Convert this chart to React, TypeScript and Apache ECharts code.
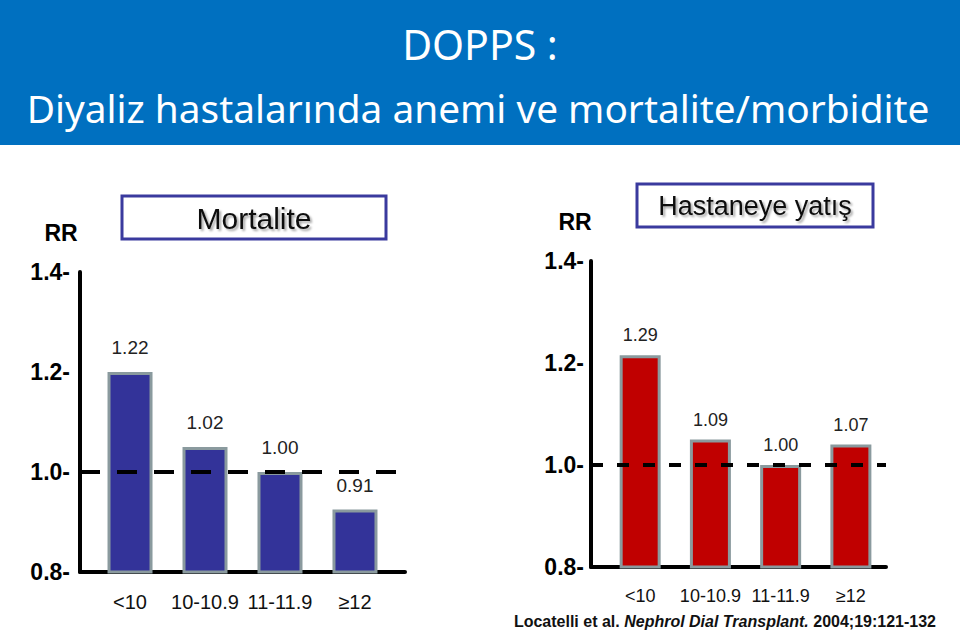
import React, { useEffect, useRef } from "react";
import * as echarts from "echarts";

const categories = ["<10", "10-10.9", "11-11.9", "≥12"];
const mortalityBars = [1.2, 1.05, 1.0, 0.925];
const mortalityLabels = ["1.22", "1.02", "1.00", "0.91"];
const hospitalBars = [1.215, 1.05, 1.0, 1.04];
const hospitalLabels = ["1.29", "1.09", "1.00", "1.07"];
const yMin = 0.8;
const yMax = 1.4;
const yStep = 0.2;
const refLine = 1.0;

const FONT = "'Liberation Sans', Arial, sans-serif";

export default function App() {
  const ref = useRef<HTMLDivElement>(null);
  useEffect(() => {
    if (!ref.current) return;
    const chart = echarts.init(ref.current, null, { renderer: "svg" });

    const yAxisCommon = (margin: number) => ({
      type: "value",
      min: yMin,
      max: yMax,
      interval: yStep,
      axisLine: { show: true, onZero: false, lineStyle: { color: "#000", width: 4 } },
      axisTick: { show: false },
      splitLine: { show: false },
      axisLabel: {
        margin,
        fontFamily: FONT,
        fontWeight: "bold",
        fontSize: 23,
        color: "#000",
        formatter: (v: number) => v.toFixed(1) + "-",
      },
    });

    const xAxisCommon = (min: number, max: number, fontSize: number) => ({
      type: "value",
      min,
      max,
      axisLine: { show: true, onZero: false, lineStyle: { color: "#000", width: 4 } },
      axisTick: { show: false },
      splitLine: { show: false },
      axisLabel: {
        customValues: categories.map((_, i) => i),
        margin: 20,
        fontFamily: FONT,
        fontSize,
        color: "#111",
        formatter: (v: number) => categories[Math.round(v)] ?? "",
      },
    });

    const barSeries = (
      idx: number,
      values: number[],
      labels: string[],
      color: string,
      width: number,
      fontSize: number,
      distance: number
    ) => ({
      type: "bar",
      xAxisIndex: idx,
      yAxisIndex: idx,
      z: 2,
      barWidth: width,
      data: values.map((v, i) => [i, v]),
      itemStyle: { color, borderColor: "#8a9a9e", borderWidth: 3 },
      label: {
        show: true,
        position: "top",
        distance,
        fontFamily: FONT,
        fontSize,
        color: "#222",
        formatter: (p: any) => labels[p.dataIndex],
      },
    });

    const refSeries = (idx: number, z: number, dash: number[]) => ({
      type: "line",
      xAxisIndex: idx,
      yAxisIndex: idx,
      z,
      data: [],
      markLine: {
        silent: true,
        symbol: "none",
        label: { show: false },
        lineStyle: { color: "#000", width: 4, type: dash },
        data: [{ yAxis: refLine }],
      },
    });

    chart.setOption({
      animation: false,
      grid: [
        { left: 80, top: 272, width: 325, height: 300 },
        { left: 591, top: 261, width: 295, height: 306 },
      ],
      xAxis: [
        { ...xAxisCommon(-0.667, 3.667, 20), gridIndex: 0 },
        { ...xAxisCommon(-0.7, 3.5, 18), gridIndex: 1 },
      ],
      yAxis: [
        { ...yAxisCommon(10), gridIndex: 0 },
        { ...yAxisCommon(7), gridIndex: 1 },
      ],
      series: [
        barSeries(0, mortalityBars, mortalityLabels, "#333399", 45, 19, 15),
        refSeries(0, 3, [20, 17]),
        refSeries(1, 1, [12, 14]),
        barSeries(1, hospitalBars, hospitalLabels, "#c00000", 41, 18, 11),
      ],
      graphic: [
        { type: "rect", shape: { x: 0, y: 0, width: 960, height: 145 }, style: { fill: "#0070c0" } },
        {
          type: "text",
          x: 480,
          y: 44,
          style: {
            text: "DOPPS :",
            fill: "#fff",
            font: "41px 'Noto Sans', sans-serif",
            textAlign: "center",
            textVerticalAlign: "middle",
          },
        },
        {
          type: "text",
          x: 478,
          y: 108,
          style: {
            text: "Diyaliz hastalarında anemi ve mortalite/morbidite",
            fill: "#fff",
            font: "38.8px 'Noto Sans', sans-serif",
            textAlign: "center",
            textVerticalAlign: "middle",
          },
        },
        {
          type: "text",
          x: 61,
          y: 233,
          style: { text: "RR", fill: "#000", font: `bold 23px ${FONT}`, textAlign: "center", textVerticalAlign: "middle" },
        },
        {
          type: "text",
          x: 575,
          y: 222,
          style: { text: "RR", fill: "#000", font: `bold 23px ${FONT}`, textAlign: "center", textVerticalAlign: "middle" },
        },
        {
          type: "rect",
          shape: { x: 122, y: 196, width: 264, height: 43 },
          style: { fill: "#fff", stroke: "#3a3a9e", lineWidth: 3 },
        },
        {
          type: "text",
          x: 254,
          y: 218,
          style: {
            text: "Mortalite",
            fill: "#111",
            font: `30px ${FONT}`,
            textAlign: "center",
            textVerticalAlign: "middle",
            textShadowColor: "rgba(0,0,0,0.35)",
            textShadowOffsetX: 2,
            textShadowOffsetY: 2,
            textShadowBlur: 2,
          },
        },
        {
          type: "rect",
          shape: { x: 637, y: 184, width: 236, height: 43 },
          style: { fill: "#fff", stroke: "#3a3a9e", lineWidth: 3 },
        },
        {
          type: "text",
          x: 755,
          y: 206,
          style: {
            text: "Hastaneye yatış",
            fill: "#111",
            font: `27px ${FONT}`,
            textAlign: "center",
            textVerticalAlign: "middle",
            textShadowColor: "rgba(0,0,0,0.35)",
            textShadowOffsetX: 2,
            textShadowOffsetY: 2,
            textShadowBlur: 2,
          },
        },
        {
          type: "text",
          x: 936,
          y: 621,
          style: {
            text: "{a|Locatelli et al. }{i|Nephrol Dial Transplant.}{a| 2004;19:121-132}",
            textAlign: "right",
            textVerticalAlign: "middle",
            rich: {
              a: { fontFamily: FONT, fontWeight: "bold", fontSize: 16, fill: "#111" },
              i: { fontFamily: FONT, fontWeight: "bold", fontStyle: "italic", fontSize: 16, fill: "#111" },
            },
          },
        },
      ],
    });
    return () => chart.dispose();
  }, []);
  return (
    <div
      ref={ref}
      style={{ position: "fixed", left: 0, top: 0, width: 960, height: 633, background: "#fff" }}
    />
  );
}
